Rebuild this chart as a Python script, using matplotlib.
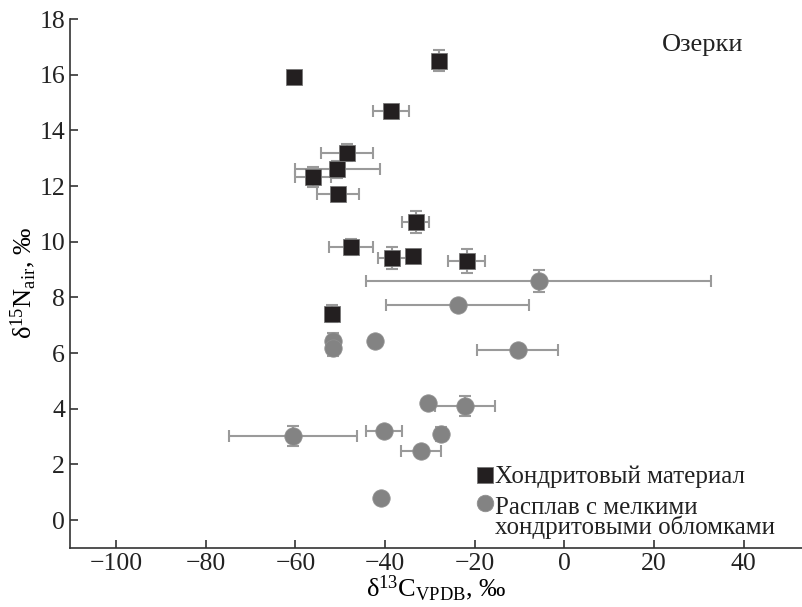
import numpy as np
import matplotlib
matplotlib.use("Agg")
import matplotlib.pyplot as plt

plt.rcParams["font.family"] = ["Liberation Serif", "DejaVu Serif"]
plt.rcParams["mathtext.fontset"] = "custom"
plt.rcParams["mathtext.rm"] = "Liberation Serif"
plt.rcParams["mathtext.it"] = "Liberation Serif:italic"

# chondritic material (squares)
chon_x = [-60.4, -28.0, -38.7, -48.6, -50.7, -56.0, -50.6, -33.2, -47.7, -38.4, -33.7, -21.8, -51.8]
chon_y = [15.9, 16.5, 14.7, 13.2, 12.6, 12.33, 11.7, 10.7, 9.81, 9.42, 9.5, 9.31, 7.42]
chon_xerr = [0, 0, 4.1, 5.8, 9.5, 4.0, 4.7, 3.0, 4.9, 3.2, 0, 4.1, 0]
chon_yerr = [0, 0.38, 0, 0.3, 0.3, 0.36, 0, 0.39, 0.3, 0.4, 0, 0.42, 0.3]

# melt with small chondritic fragments (circles)
melt_x = [-5.7, -23.8, -51.6, -51.6, -42.2, -10.4, -30.4, -22.2, -60.6, -40.3, -27.6, -32.0, -41.0]
melt_y = [8.59, 7.72, 6.42, 6.2, 6.42, 6.1, 4.21, 4.1, 3.02, 3.21, 3.11, 2.49, 0.8]
melt_xerr = [38.5, 16.0, 0, 0, 0, 9.0, 0, 6.7, 14.3, 4.0, 0, 4.5, 0]
melt_yerr = [0.4, 0, 0.3, 0.3, 0, 0, 0, 0.37, 0.37, 0, 0.25, 0, 0]

labels = ["Хондритовый материал", "Расплав с мелкими\nхондритовыми обломками"]

W, H = 802, 607
fig = plt.figure(figsize=(W / 100, H / 100), dpi=100)
ax = fig.add_axes([70 / W, (H - 548) / H, (W - 70) / W, (548 - 19) / H])

ecol = "#9a9a9a"
ax.errorbar(chon_x, chon_y, xerr=chon_xerr, yerr=chon_yerr, fmt="none",
            ecolor=ecol, elinewidth=1.5, capsize=4.5, capthick=1.5, zorder=2)
ax.errorbar(melt_x, melt_y, xerr=melt_xerr, yerr=melt_yerr, fmt="none",
            ecolor=ecol, elinewidth=1.5, capsize=4.5, capthick=1.5, zorder=2)
ax.plot(melt_x, melt_y, "o", ms=12.5, color="#838383", mec="#8f8f8f", mew=0.6,
        ls="none", zorder=3, label=labels[1])
ax.plot(chon_x, chon_y, "s", ms=11.5, color="#231f20", mec="#777777", mew=0.6,
        ls="none", zorder=4, label=labels[0])

ax.set_xlim(-110.3, 53)
ax.set_ylim(-1.0, 18)
ax.set_xticks(np.arange(-100, 41, 20))
ax.set_yticks(np.arange(0, 19, 2))
for s in ["top", "right"]:
    ax.spines[s].set_visible(False)
for s in ["left", "bottom"]:
    ax.spines[s].set_linewidth(1.2)
    ax.spines[s].set_color("#333333")
ax.tick_params(direction="in", length=6, width=1.1, labelsize=18.5, colors="#222222")

ax.set_xlabel(r"δ$^{13}$C$_{\mathrm{VPDB}}$, $\mathit{‰}$", fontsize=19, labelpad=-1)
ax.set_ylabel(r"δ$^{15}$N$_{\mathrm{air}}$, $\mathit{‰}$", fontsize=19, labelpad=1)

ax.text(703 / W, 1 - 45 / H, "Озерки", transform=fig.transFigure, fontsize=19,
        ha="center", va="center", color="#222222")

h, l = ax.get_legend_handles_labels()
leg = ax.legend(h[::-1], l[::-1], loc="upper left", frameon=False, fontsize=18,
                bbox_to_anchor=(478 / W, 1 - 466 / H), bbox_transform=fig.transFigure,
                handlelength=0.6, handletextpad=0.1, labelspacing=0.33,
                borderaxespad=0, borderpad=0, markerscale=0.95)
for t in leg.get_texts():
    t.set_linespacing(0.83)
    t.set_color("#222222")
# circle key sits level with the first line of its two-line label
circ = leg.legend_handles[1]
circ.set_ydata(np.asarray(circ.get_ydata()) + 10.5)

fig.savefig("out.png", dpi=100)
